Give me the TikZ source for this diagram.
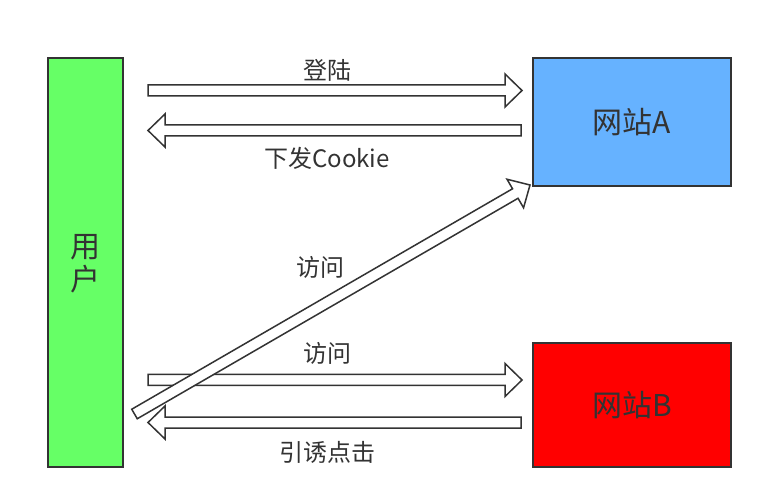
\documentclass[tikz,border=0pt]{standalone}
\usepackage{fontspec}
\setmainfont{Noto Sans CJK SC}
\usetikzlibrary{calc}
\definecolor{ink}{HTML}{333333}
\definecolor{usergreen}{HTML}{66FF66}
\definecolor{siteblue}{HTML}{66B2FF}
\definecolor{sitered}{HTML}{FF0000}
\tikzset{
  box/.style={draw=ink, line width=2pt, inner sep=0pt, outer sep=0pt, text=ink},
  lbl/.style={text=ink, font=\fontsize{24}{27}\selectfont, inner sep=0pt},
  barrowline/.style={draw=ink, fill=white, line width=1.5pt, line join=miter},
}
\newcommand\blockarrow[2]{%
  \path coordinate (bh) at ($(#2)!17pt!(#1)$);
  \draw[barrowline] ($(#1)!5.5pt!90:(#2)$) -- ($(bh)!5.5pt!90:(#2)$) -- ($(bh)!16.5pt!90:(#2)$) -- (#2)
    -- ($(bh)!16.5pt!-90:(#2)$) -- ($(bh)!5.5pt!-90:(#2)$) -- ($(#1)!5.5pt!-90:(#2)$) -- cycle;
}
\begin{document}
\begin{tikzpicture}[x=1pt,y=-1pt]
\useasboundingbox (0,0) rectangle (763,502);
\fill[white] (0,0) rectangle (763,502);
% boxes
\node[box, fill=usergreen, minimum width=75pt, minimum height=409pt, anchor=north west] (user) at (48,58) {};
\node[text=ink, font=\fontsize{30}{34}\selectfont, inner sep=0pt] (userlbl) at (85,264) {\shortstack{用\\[2pt]户}};
\node[box, fill=siteblue, minimum width=198pt, minimum height=128pt, anchor=north west, font=\fontsize{30}{34}\selectfont] (siteA) at (533,58) {网站A};
\node[box, fill=sitered, minimum width=198pt, minimum height=124pt, anchor=north west, font=\fontsize{30}{34}\selectfont] (siteB) at (533,343) {网站B};
% connector end points
\coordinate (a1s) at (148,90.5);  \coordinate (a1e) at (522,90.5);
\coordinate (a2s) at (521,130.5); \coordinate (a2e) at (148,130.5);
\coordinate (a3s) at (148,380);   \coordinate (a3e) at (522,380);
\coordinate (a4s) at (521,422.5); \coordinate (a4e) at (148,422.5);
\coordinate (a5s) at (134.5,414); \coordinate (a5e) at (530,185);
\blockarrow{a1s}{a1e}
\blockarrow{a2s}{a2e}
\blockarrow{a3s}{a3e}
\blockarrow{a4s}{a4e}
\blockarrow{a5s}{a5e}
% labels
\node[lbl] (l1) at (327,70) {登陆};
\node[lbl] (l2) at (327,158) {下发Cookie};
\node[lbl] (l3) at (320,267) {访问};
\node[lbl] (l4) at (327,353) {访问};
\node[lbl] (l5) at (327,452) {引诱点击};
\end{tikzpicture}
\end{document}
